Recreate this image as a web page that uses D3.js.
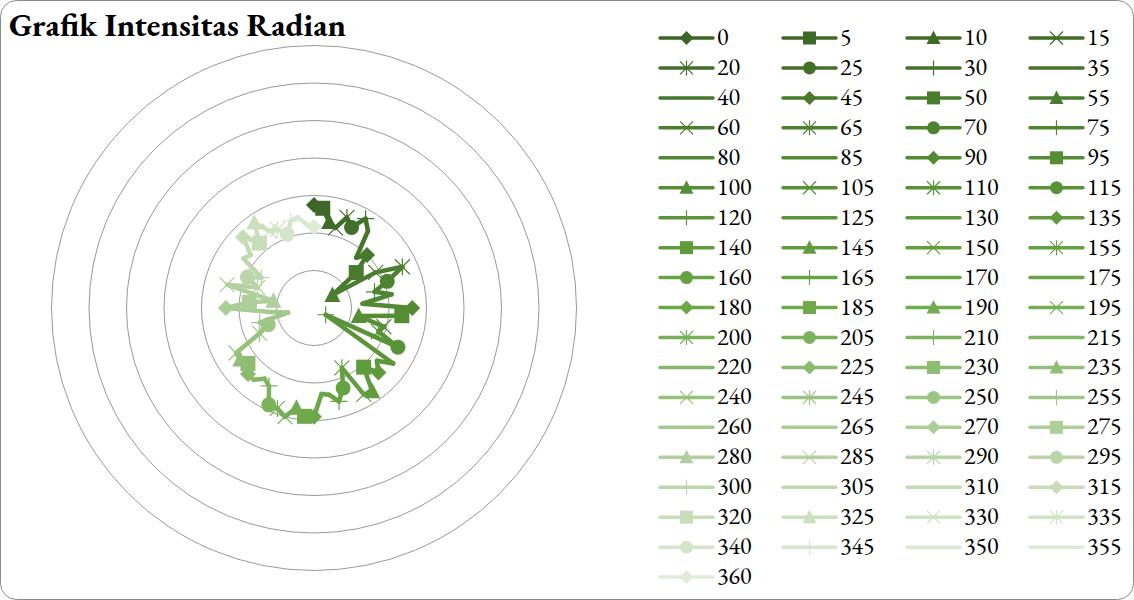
<!DOCTYPE html>
<html>
<head>
<meta charset="utf-8">
<script src="https://cdn.jsdelivr.net/npm/d3@7"></script>
<style>
  html, body { margin: 0; padding: 0; background: #fff; }
  svg { display: block; }
</style>
</head>
<body>
<svg id="chart" width="1134" height="600"></svg>
<script>
// ---------------- data ----------------
const titleText = "Grafik Intensitas Radian";
const seriesAngles = [0,5,10,15,20,25,30,35,40,45,50,55,60,65,70,75,80,85,90,95,100,105,110,115,120,125,130,135,140,145,150,155,160,165,170,175,180,185,190,195,200,205,210,215,220,225,230,235,240,245,250,255,260,265,270,275,280,285,290,295,300,305,310,315,320,325,330,335,340,345,350,355,360];
const seriesValues = [2.75,2.67,2.33,2.21,2.57,2.37,2.75,2.51,1.75,2.0,1.47,0.6,1.9,2.6,2.08,1.67,2.1,1.3,2.62,2.35,1.21,1.93,1.83,2.47,0.36,2.58,2.19,2.43,2.06,2.71,2.66,1.76,2.27,2.58,2.35,2.3,2.9,2.9,2.7,3.0,2.85,2.85,2.4,2.3,2.5,2.49,2.3,2.4,2.4,1.6,1.3,1.5,0.7,1.2,2.35,1.73,1.1,2.4,1.6,1.96,1.62,2.3,2.2,2.68,2.26,2.78,2.37,2.31,2.09,2.4,2.46,2.23,2.17];
const gridLevels = [1,2,3,4,5,6,7];
const markerCycle = ["diamond","square","triangle","x","star","circle","plus","none","none"];

// ---------------- layout ----------------
const svg = d3.select("#chart");
const W = 1134, H = 600;
const cx = 314, cy = 308;

svg.append("rect").attr("x",0.5).attr("y",0.5).attr("width",W-1).attr("height",H-1)
  .attr("rx",16).attr("ry",16).attr("fill","#fff").attr("stroke","#8a8a8a").attr("stroke-width",1);

svg.append("text").attr("x",9).attr("y",36).text(titleText)
  .attr("font-family","'EB Garamond', Garamond, 'Liberation Serif', serif")
  .attr("font-weight","bold").attr("font-size",31).attr("fill","#000")
  .attr("textLength",337).attr("lengthAdjust","spacingAndGlyphs");

const rScale = d3.scaleLinear().domain([0,7]).range([0,262.5]);
const aScale = d3.scaleLinear().domain([0,360]).range([0,2*Math.PI]);
const colorScale = d3.scaleLinear().domain([0,90,180,270,360])
  .range(["#3c6626","#538b33","#6aa846","#abcd96","#e0ecd8"]).interpolate(d3.interpolateRgb);

function pos(angle, value){
  const a = aScale(angle), r = rScale(value);
  return [cx + r*Math.sin(a), cy - r*Math.cos(a)];
}

// grid rings
const grid = svg.append("g");
grid.selectAll("circle").data(gridLevels).join("circle")
  .attr("cx",cx).attr("cy",cy).attr("r",d=>rScale(d))
  .attr("fill","none").attr("stroke","#8c8c8c").attr("stroke-width",0.9);

// marker drawing
function drawMarker(g, type, x, y, color, s){
  if(type==="diamond"){
    g.append("path").attr("d",`M${x},${y-s-0.5}L${x+s+0.5},${y}L${x},${y+s+0.5}L${x-s-0.5},${y}Z`).attr("fill",color);
  } else if(type==="square"){
    g.append("rect").attr("x",x-s).attr("y",y-s).attr("width",2*s).attr("height",2*s).attr("fill",color);
  } else if(type==="triangle"){
    g.append("path").attr("d",`M${x},${y-s-1}L${x+s+0.5},${y+s-0.5}L${x-s-0.5},${y+s-0.5}Z`).attr("fill",color);
  } else if(type==="circle"){
    g.append("circle").attr("cx",x).attr("cy",y).attr("r",s).attr("fill",color);
  } else if(type==="x"){
    g.append("path").attr("d",`M${x-s},${y-s}L${x+s},${y+s}M${x-s},${y+s}L${x+s},${y-s}`)
      .attr("stroke",color).attr("stroke-width",1.2).attr("fill","none");
  } else if(type==="star"){
    g.append("path").attr("d",`M${x-s},${y-s}L${x+s},${y+s}M${x-s},${y+s}L${x+s},${y-s}M${x},${y-s-1}L${x},${y+s+1}`)
      .attr("stroke",color).attr("stroke-width",1.2).attr("fill","none");
  } else if(type==="plus"){
    g.append("path").attr("d",`M${x-s-1},${y}L${x+s+1},${y}M${x},${y-s-1}L${x},${y+s+1}`)
      .attr("stroke",color).attr("stroke-width",1.2).attr("fill","none");
  }
}

// series
const series = seriesAngles.map((a,i)=>({angle:a, value:seriesValues[i], idx:i,
  color:colorScale(a), marker:markerCycle[i%markerCycle.length]}));

const plot = svg.append("g");
series.forEach((s,i)=>{
  const g = plot.append("g");
  if(i < series.length-1){
    const p0 = pos(s.angle, s.value), p1 = pos(series[i+1].angle, series[i+1].value);
    g.append("line").attr("x1",p0[0]).attr("y1",p0[1]).attr("x2",p1[0]).attr("y2",p1[1])
      .attr("stroke",s.color).attr("stroke-width",4.5).attr("stroke-linecap","round");
  }
  const p = pos(s.angle, s.value);
  drawMarker(g, s.marker, p[0], p[1], s.color, 7.5);
});

// legend
const legX = [660,783,907,1030], legY0 = 38, legDy = 29.95;
const leg = svg.append("g");
series.forEach((s,i)=>{
  const col = i%4, row = Math.floor(i/4);
  const x = legX[col], y = legY0 + row*legDy;
  const g = leg.append("g");
  g.append("line").attr("x1",x).attr("y1",y).attr("x2",x+53).attr("y2",y)
    .attr("stroke",s.color).attr("stroke-width",3.5).attr("stroke-linecap","round");
  drawMarker(g, s.marker, x+26.5, y, s.color, 6.5);
  g.append("text").attr("x",x+57).attr("y",y+7).text(String(s.angle))
    .attr("font-family","'EB Garamond', Garamond, 'Liberation Serif', serif")
    .attr("font-size",24).attr("fill","#000");
});
</script>
</body>
</html>
